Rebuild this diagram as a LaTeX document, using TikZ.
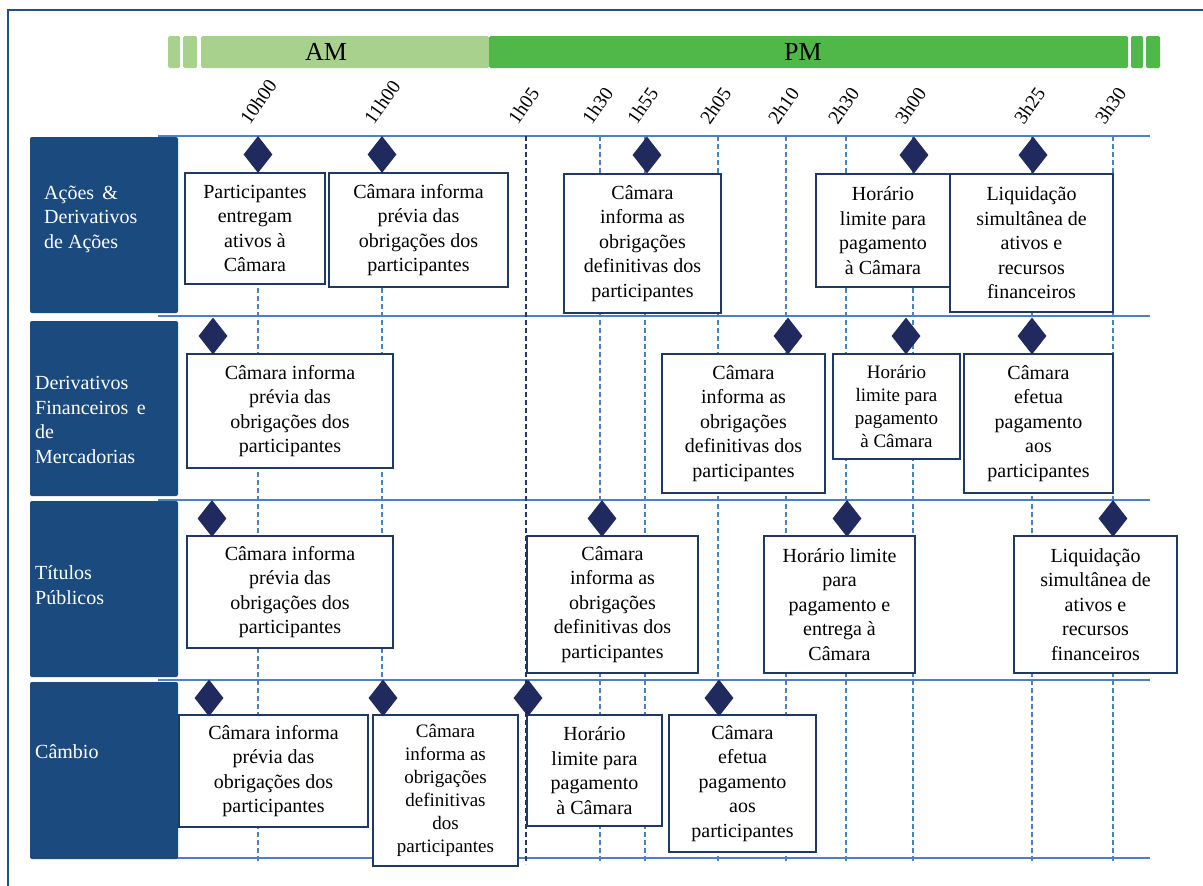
\documentclass[tikz,border=0pt]{standalone}
\usepackage{fontspec}
\setmainfont{Liberation Serif}
\usetikzlibrary{shapes.geometric}

\definecolor{frameblue}{RGB}{31,78,140}
\definecolor{lanefill}{RGB}{27,74,126}
\definecolor{gridblue}{RGB}{76,128,194}
\definecolor{boxnavy}{RGB}{31,56,100}
\definecolor{marknavy}{RGB}{32,42,94}
\definecolor{amgreen}{RGB}{169,209,142}
\definecolor{pmgreen}{RGB}{80,183,73}

\begin{document}
\begin{tikzpicture}[x=1pt,y=-1pt,
  lanebox/.style={fill=lanefill, rounded corners=2pt},
  lanelabel/.style={text=white, align=left, anchor=west, inner sep=0pt,
    font=\fontsize{20}{24.5}\selectfont},
  gridrow/.style={draw=gridblue, line width=2.2pt},
  gridtick/.style={draw=gridblue, line width=1.6pt, dash pattern=on 5pt off 3pt},
  gridtickdark/.style={draw=boxnavy, line width=1.6pt, dash pattern=on 5pt off 3pt},
  hourlabel/.style={anchor=south west, rotate=55, inner sep=0pt,
    font=\fontsize{19.5}{21}\selectfont},
  evbox/.style={draw=boxnavy, line width=2pt, fill=white, align=center, inner sep=0pt,
    font=\fontsize{20}{24.5}\selectfont},
  evsmall/.style={evbox, font=\fontsize{19}{23}\selectfont},
  milestone/.style={diamond, fill=marknavy, inner sep=0pt, aspect=0.78,
    minimum width=29pt, minimum height=37pt},
  barseg/.style={rounded corners=1.5pt},
  bartext/.style={font=\fontsize{26}{28}\selectfont, inner sep=0pt}
]
\useasboundingbox (0,0) rectangle (1203,886);

% outer frame
\draw[frameblue, line width=2.5pt] (8,900) -- (8,10) -- (1215,10);

% AM / PM band
\fill[amgreen, barseg] (168,36) rectangle (180,68);
\fill[amgreen, barseg] (183,36) rectangle (197,68);
\fill[amgreen, barseg] (201,36) rectangle (489,68);
\fill[pmgreen, barseg] (489,36) rectangle (1128,68);
\fill[pmgreen, barseg] (1131,36) rectangle (1143,68);
\fill[pmgreen, barseg] (1146,36) rectangle (1160,68);
\node[bartext] (am) at (326,52) {AM};
\node[bartext] (pm) at (803,52) {PM};

% horizontal lane separators
\foreach \r/\yy in {1/136, 2/316, 3/500, 4/680, 5/858} {
  \coordinate (row\r-w) at (158,\yy);
  \coordinate (row\r-e) at (1150,\yy);
  \draw[gridrow] (row\r-w) -- (row\r-e);
}

% dashed time lines and their hour labels
\foreach \nm/\xx/\lab in {a/258/10h00, b/382/11h00, d/600/1h30, e/645/1h55,
    f/718/2h05, g/786/2h10, h/846/2h30, i/913/3h00, j/1032/3h25, k/1113/3h30} {
  \coordinate (t\nm-top) at (\xx,136);
  \coordinate (t\nm-bot) at (\xx,861);
  \draw[gridtick] (t\nm-top) -- (t\nm-bot);
  \node[hourlabel] (hour-\nm) at (\xx-8,126) {\lab};
}
\coordinate (tc-top) at (526,136);
\coordinate (tc-bot) at (526,864);
\draw[gridtickdark] (tc-top) -- (tc-bot);
\node[hourlabel] (hour-c) at (518,126) {1h05};

% lane headers
\fill[lanebox] (30,137) rectangle (178,313);
\fill[lanebox] (30,321) rectangle (178,496);
\fill[lanebox] (30,501) rectangle (178,677);
\fill[lanebox] (30,682) rectangle (178,859);
\node[lanelabel] (lane1) at (44,219) {Ações \,\&\\Derivativos\\de Ações};
\node[lanelabel] (lane2) at (35,420) {Derivativos\\Financeiros \,e\\de\\Mercadorias};
\node[lanelabel] (lane3) at (35,585) {Títulos\\Públicos};
\node[lanelabel] (lane4) at (35,752) {Câmbio};

% lane 1: Ações & Derivativos de Ações
\node[evbox, minimum width=140pt, minimum height=111pt] (a1) at (255,228.5)
  {Participantes\\entregam\\ativos à\\Câmara};
\node[evbox, minimum width=179pt, minimum height=114pt] (a2) at (418.5,230)
  {Câmara informa\\prévia das\\obrigações dos\\participantes};
\node[evbox, minimum width=157pt, minimum height=139pt] (a3) at (642.5,243.5)
  {Câmara\\informa as\\obrigações\\definitivas dos\\participantes};
\node[evbox, minimum width=134pt, minimum height=113pt] (a4) at (883,230.5)
  {Horário\\limite para\\pagamento\\à Câmara};
\node[evbox, minimum width=163pt, minimum height=138pt] (a5) at (1031.5,243)
  {Liquidação\\simultânea de\\ativos e\\recursos\\financeiros};

% lane 2: Derivativos Financeiros e de Mercadorias
\node[evbox, minimum width=206pt, minimum height=114pt] (b1) at (290,411)
  {Câmara informa\\prévia das\\obrigações dos\\participantes};
\node[evbox, minimum width=163pt, minimum height=139pt] (b2) at (743.5,423.5)
  {Câmara\\informa as\\obrigações\\definitivas dos\\participantes};
\node[evsmall, minimum width=127pt, minimum height=105pt] (b3) at (896.5,406.5)
  {Horário\\limite para\\pagamento\\à Câmara};
\node[evbox, minimum width=149pt, minimum height=139pt] (b4) at (1038.5,423.5)
  {Câmara\\efetua\\pagamento\\aos\\participantes};

% lane 3: Títulos Públicos
\node[evbox, minimum width=206pt, minimum height=112pt] (c1) at (290,592)
  {Câmara informa\\prévia das\\obrigações dos\\participantes};
\node[evbox, minimum width=171pt, minimum height=137pt] (c2) at (612.5,604.5)
  {Câmara\\informa as\\obrigações\\definitivas dos\\participantes};
\node[evbox, minimum width=151pt, minimum height=137pt] (c3) at (839.5,604.5)
  {Horário limite\\para\\pagamento e\\entrega à\\Câmara};
\node[evbox, minimum width=163pt, minimum height=137pt] (c4) at (1095.5,604.5)
  {Liquidação\\simultânea de\\ativos e\\recursos\\financeiros};

% lane 4: Câmbio
\node[evbox, minimum width=189pt, minimum height=112pt] (d1) at (273.5,771)
  {Câmara informa\\prévia das\\obrigações dos\\participantes};
\node[evsmall, minimum width=145pt, minimum height=151pt] (d2) at (445.5,790.5)
  {Câmara\\informa as\\obrigações\\definitivas\\dos\\participantes};
\node[evbox, minimum width=135pt, minimum height=111pt] (d3) at (594.5,770.5)
  {Horário\\limite para\\pagamento\\à Câmara};
\node[evbox, minimum width=147pt, minimum height=137pt] (d4) at (742.5,783.5)
  {Câmara\\efetua\\pagamento\\aos\\participantes};

% milestone markers
\node[milestone] (ma1) at (258,154.5) {};
\node[milestone] (ma2) at (382,154.5) {};
\node[milestone] (ma3) at (647,155) {};
\node[milestone] (ma4) at (914,155) {};
\node[milestone] (ma5) at (1033,155) {};

\node[milestone] (mb1) at (213,336) {};
\node[milestone] (mb2) at (788,336) {};
\node[milestone] (mb3) at (906,336) {};
\node[milestone] (mb4) at (1032,336) {};

\node[milestone] (mc1) at (212,518.5) {};
\node[milestone] (mc2) at (602,518.5) {};
\node[milestone] (mc3) at (847,518.5) {};
\node[milestone] (mc4) at (1113,518.5) {};

\node[milestone] (md1) at (209,698) {};
\node[milestone] (md2) at (383,698) {};
\node[milestone] (md3) at (528,698) {};
\node[milestone] (md4) at (719,698) {};
\end{tikzpicture}
\end{document}
